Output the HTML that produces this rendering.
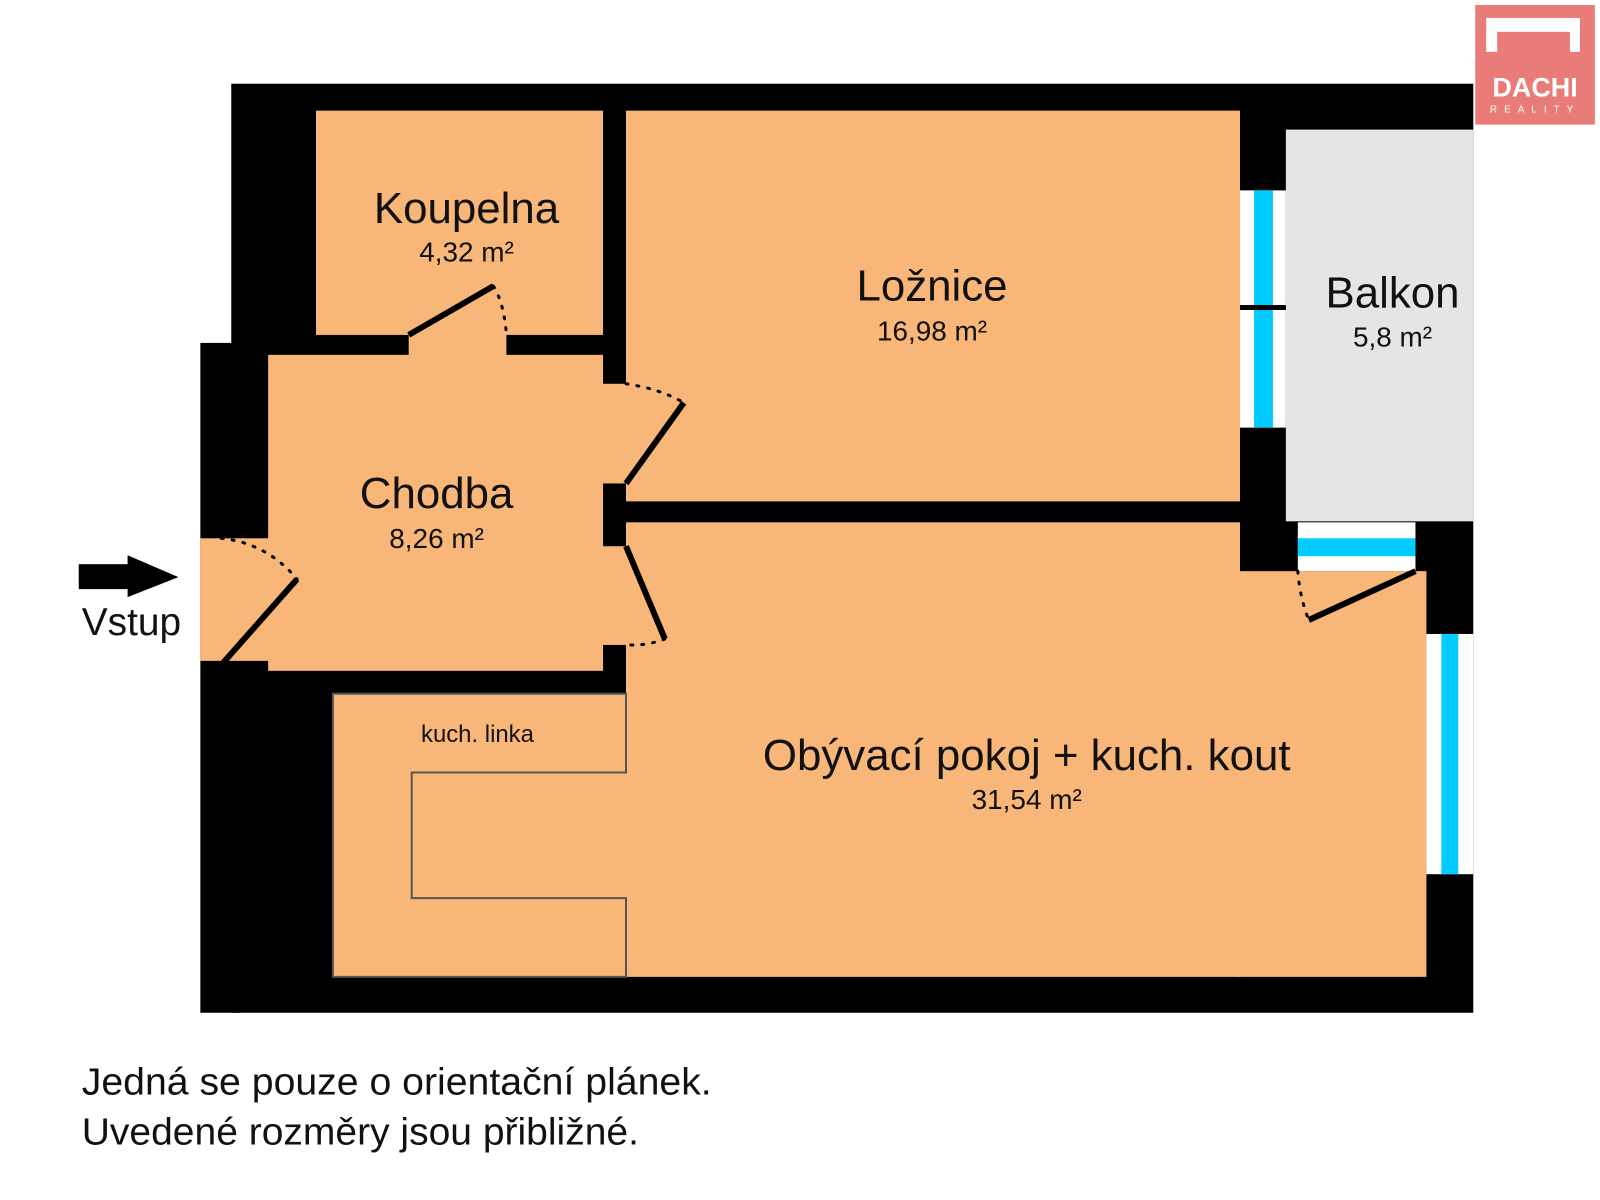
<!DOCTYPE html>
<html><head><meta charset="utf-8"><style>
html,body{margin:0;padding:0;background:#fff;}
svg{display:block;}
text{font-family:"Liberation Sans",sans-serif;fill:#111;}
</style></head><body>
<svg width="1600" height="1200" viewBox="0 0 1600 1200" xmlns="http://www.w3.org/2000/svg">
<rect width="1600" height="1200" fill="#fff"/>
<g transform="scale(0.9968)">
<!-- walls -->
<rect x="232" y="84" width="1246" height="932" fill="#000"/>
<rect x="201" y="344" width="40" height="672" fill="#000"/>
<!-- balcony -->
<rect x="1290" y="130" width="188" height="393" fill="#e5e5e5"/>
<!-- rooms -->
<g fill="#f9b679">
<rect x="317" y="111" width="288" height="225"/>
<rect x="410" y="334" width="98" height="24"/>
<rect x="269" y="356" width="336" height="317"/>
<rect x="201" y="540" width="70" height="123"/>
<rect x="603" y="385" width="27" height="100"/>
<rect x="603" y="548" width="27" height="99"/>
<rect x="628" y="111" width="616" height="392"/>
<rect x="628" y="524" width="616" height="456"/>
<rect x="1242" y="573" width="189" height="407"/>
<rect x="334" y="696" width="296" height="284"/>
</g>
<!-- bedroom window -->
<rect x="1244" y="191" width="46" height="238" fill="#fff"/>
<rect x="1258" y="191" width="19" height="238" fill="#00ccff"/>
<rect x="1244" y="306" width="46" height="5" fill="#000"/>
<!-- living top window -->
<rect x="1302" y="524" width="118" height="49" fill="#fff"/>
<rect x="1302" y="540" width="118" height="18" fill="#00ccff"/>
<!-- living right window -->
<rect x="1431" y="636" width="47" height="241" fill="#fff"/>
<rect x="1446" y="636" width="17" height="241" fill="#00ccff"/>
<!-- kitchen -->
<polygon points="334,696 628,696 628,775 413,775 413,901 628,901 628,980 334,980" fill="none" stroke="#555" stroke-width="2"/>
<!-- doors -->
<g stroke="#000" stroke-width="6" stroke-linecap="butt">
<line x1="410" y1="336" x2="495" y2="287"/>
<line x1="628" y1="485" x2="686" y2="404"/>
<line x1="628" y1="548" x2="667" y2="641"/>
<line x1="222" y1="667" x2="298" y2="581"/>
<line x1="1313" y1="622" x2="1420" y2="573"/>
</g>
<g stroke="#000" stroke-width="3" fill="none" stroke-dasharray="2,9" stroke-linecap="round">
<path d="M495,287 Q506,305 508,336"/>
<path d="M628,385 Q662,390 686,404"/>
<path d="M667,641 Q650,648 628,647"/>
<path d="M222,540 Q268,545 298,581"/>
<path d="M1302,573 Q1304,600 1313,622"/>
</g>
<!-- arrow -->
<rect x="79" y="566" width="50" height="25" fill="#000"/>
<polygon points="128,557 179,579 128,599" fill="#000"/>
<!-- labels -->
<g text-anchor="middle" dominant-baseline="central">
<text x="468" y="209" font-size="44">Koupelna</text>
<text x="468" y="253" font-size="28">4,32 m²</text>
<text x="935" y="287" font-size="44">Ložnice</text>
<text x="935" y="332" font-size="28">16,98 m²</text>
<text x="1397" y="294" font-size="44">Balkon</text>
<text x="1397" y="338" font-size="28">5,8 m²</text>
<text x="438" y="495" font-size="44">Chodba</text>
<text x="438" y="540" font-size="28">8,26 m²</text>
<text x="1030" y="758" font-size="44">Obývací pokoj + kuch. kout</text>
<text x="1030" y="802" font-size="28">31,54 m²</text>
<text x="479" y="737" font-size="24">kuch. linka</text>
</g>
<text x="82" y="637" font-size="39">Vstup</text>
<text x="82" y="1098" font-size="38" textLength="632" lengthAdjust="spacingAndGlyphs">Jedná se pouze o orientační plánek.</text>
<text x="82" y="1148" font-size="38" textLength="559" lengthAdjust="spacingAndGlyphs">Uvedené rozměry jsou přibližné.</text>
<!-- logo -->
<rect x="1480" y="5" width="120" height="120" fill="#e97b78"/>
<path d="M1491,18 H1585 V52 H1575 V32 H1502 V52 H1491 Z" fill="#fff"/>
<text x="1540" y="97" font-size="27" font-weight="bold" text-anchor="middle" style="fill:#fff">DACHI</text>
<text x="1540" y="113" font-size="10" text-anchor="middle" letter-spacing="7" style="fill:#fff">REALITY</text>
</g>
</svg>
</body></html>
